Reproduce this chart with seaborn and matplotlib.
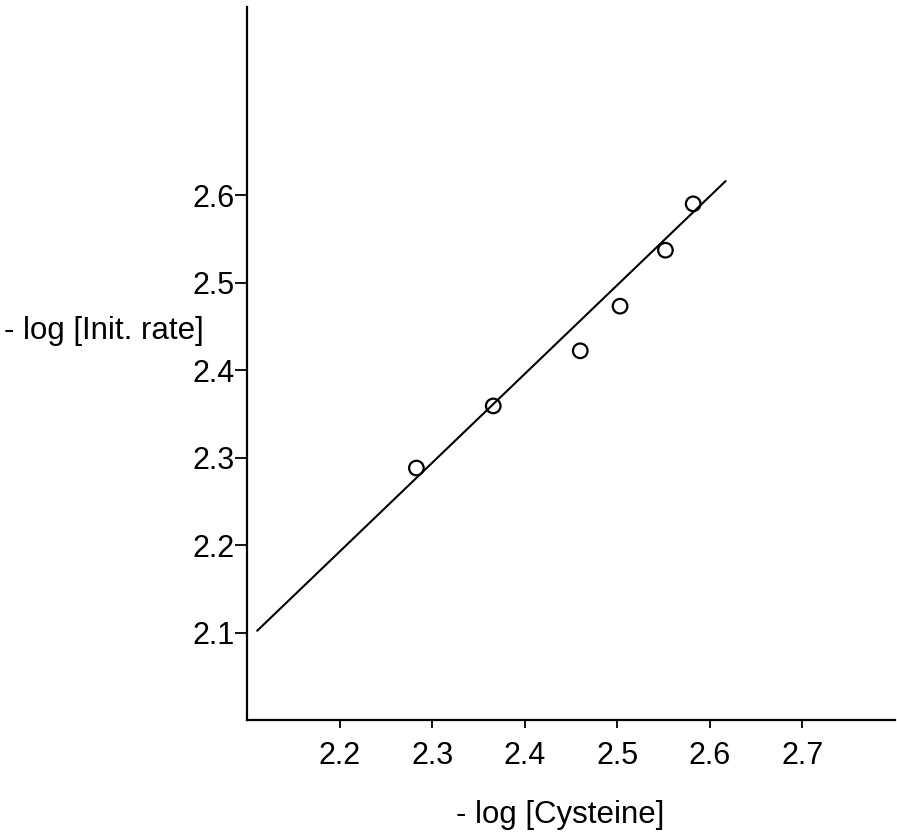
import matplotlib
matplotlib.use("Agg")
import matplotlib.pyplot as plt
import seaborn as sns
import pandas as pd

# Data
cys = [2.283, 2.366, 2.460, 2.503, 2.552, 2.582]
rate = [2.288, 2.359, 2.422, 2.473, 2.537, 2.590]
fit_x = [2.111, 2.617]
fit_y = [2.102, 2.616]
x_ticks = [2.2, 2.3, 2.4, 2.5, 2.6, 2.7]
y_ticks = [2.1, 2.2, 2.3, 2.4, 2.5, 2.6]
x_label = "- log [Cysteine]"
y_label = "- log [Init. rate]"

sns.set_theme(style="ticks")
plt.rcParams['font.family'] = ['Liberation Sans', 'DejaVu Sans']

fig = plt.figure(figsize=(8.97, 8.36), dpi=100)
ax = fig.add_axes([247/897, 116/836, 648/897, 713/836])

pts = pd.DataFrame({"x": cys, "y": rate})
fit = pd.DataFrame({"x": fit_x, "y": fit_y})

sns.lineplot(data=fit, x="x", y="y", ax=ax, color="black", linewidth=1.5)
sns.scatterplot(data=pts, x="x", y="y", ax=ax, marker="o", s=110,
                facecolor="none", edgecolor="black", linewidth=1.6, zorder=3)

ax.set_xlim(2.1, 2.8)
ax.set_ylim(2.0, 2.815)
ax.set_xticks(x_ticks)
ax.set_yticks(y_ticks)
ax.set_xticklabels([f"{v:.1f}" for v in x_ticks])
ax.set_yticklabels([f"{v:.1f}" for v in y_ticks])

for s in ("top", "right"):
    ax.spines[s].set_visible(False)
for s in ("left", "bottom"):
    ax.spines[s].set_linewidth(1.6)
    ax.spines[s].set_color("black")

ax.tick_params(axis="x", direction="out", length=6, width=1.3, pad=9,
               labelsize=22, colors="black")
ax.tick_params(axis="y", direction="out", length=9, width=1.3, pad=0,
               labelsize=22, colors="black")

ax.set_xlabel(x_label, fontsize=22.5, color="black")
ax.xaxis.set_label_coords(0.483, -0.133)
ax.xaxis.label.set_va("center")
ax.set_ylabel(y_label, fontsize=22.5, color="black", rotation=0)
ax.yaxis.set_label_coords(-0.2215, 0.546)
ax.yaxis.label.set_va("center")
ax.yaxis.label.set_ha("center")

fig.savefig("out.png", dpi=100)
